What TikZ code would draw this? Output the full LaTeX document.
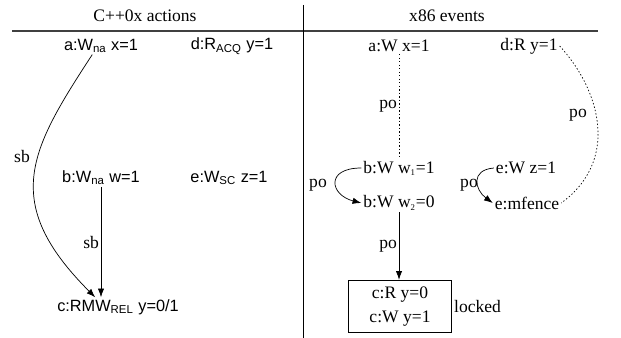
\documentclass[tikz,border=0pt]{standalone}
\usepackage{fontspec}
\setmainfont{Liberation Serif}
\setsansfont{Liberation Sans}
\usetikzlibrary{positioning,arrows.meta}

\begin{document}
\begin{tikzpicture}[x=0.57pt,y=-0.57pt,>={Latex[length=5pt,width=3.6pt]},
  act/.style={font=\sffamily\fontsize{9.3pt}{11pt}\selectfont,inner sep=1pt},
  evt/.style={inner sep=1pt},
  lbl/.style={inner sep=1pt},
  podot/.style={dash pattern=on 0.8pt off 1.2pt}]
  \useasboundingbox (0,0) rectangle (621,338);
  \node (hcpp) at (145,16) {C++0x actions};
  \node (hx86) at (447,16) {x86 events};
  \draw[black!75,line width=0.6pt] (12,31) -- (598,31);
  \draw (303,5) -- (303,338);
  % C++0x actions
  \node[act] (la) at (101,46) {a:W\textsubscript{na} x=1};
  \node[act] (ld) at (232,46) {d:R\textsubscript{ACQ} y=1};
  \node[act] (lb) at (101,178) {b:W\textsubscript{na} w=1};
  \node[act] (le) at (229,178) {e:W\textsubscript{SC} z=1};
  \node[act] (lc) at (118,307) {c:RMW\textsubscript{REL} y=0/1};
  \draw[->] ([xshift=-5pt]la.south) .. controls (30,150) and (0,202) .. ([xshift=-13pt]lc.north);
  \node[lbl] (lsb) at (22,157) {sb};
  \draw[->] (lb) -- (lb |- lc.north) node[midway,left,lbl] (lsbb) {sb};
  % x86 events
  \node[evt] (xa) at (399,46) {a:W x=1};
  \node[evt] (xd) at (529,46) {d:R y=1};
  \node[evt] (xb1) at (399,168) {b:W w{\fontsize{6pt}{7pt}\selectfont\textsubscript{1}}=1};
  \node[evt] (xb2) at (399,203) {b:W w{\fontsize{6pt}{7pt}\selectfont\textsubscript{2}}=0};
  \node[evt] (xe1) at (526,168) {e:W z=1};
  \node[evt] (xe2) at (527,203) {e:mfence};
  \node[draw,align=center,minimum width=59pt,minimum height=30pt,inner sep=2pt] (xc) at (400,306.5)
    {c:R y=0\\[1.7pt] c:W y=1};
  \node[right,lbl] (xlock) at (xc.east) {locked};
  \draw[podot] (xa) -- (xb1) node[midway,left,lbl] (xpoa) {po};
  \draw[podot] (xd.east) .. controls (600,90) and (620,160) .. (xe2.east);
  \node[lbl] (xpod) at (578,115) {po};
  \draw[->] (xb1.west) .. controls (325,168) and (330,195) .. (xb2.west);
  \node[lbl] (xpob) at (318,185) {po};
  \draw[->] (xe1.west) .. controls (470,170) and (475,190) .. (xe2.west);
  \node[lbl] (xpoe) at (469,185) {po};
  \draw[->] (xb2) -- (xb2 |- xc.north) node[midway,left,lbl] (xpoc) {po};
\end{tikzpicture}
\end{document}
